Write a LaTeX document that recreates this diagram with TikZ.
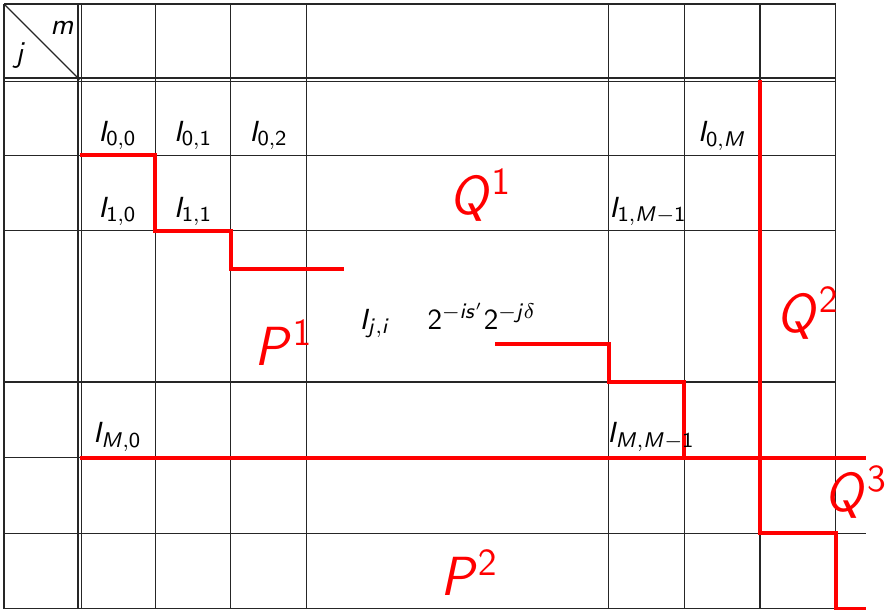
\documentclass[tikz,border=0pt]{standalone}
\DeclareMathAlphabet{\msi}{OT1}{cmss}{m}{sl}
\DeclareMathAlphabet{\msn}{OT1}{cmss}{m}{n}
\renewcommand{\familydefault}{\sfdefault}
\begin{document}
\begin{tikzpicture}[x=1cm,y=1cm,
  gridline/.style={line width=0.45pt, black!85},
  redline/.style={line width=1.5pt, red},
  lab/.style={anchor=base, inner sep=0pt, font=\fontsize{11}{13}\selectfont},
  biglab/.style={anchor=base, inner sep=0pt, text=red, font=\fontsize{19.5}{23}\selectfont}]
\useasboundingbox (-0.053,-8.003) rectangle (11.667,0.053);
% vertical grid lines
\foreach \x in {0,2,3,4,8,9,10} \draw[gridline] (\x,0) -- (\x,-8);
\draw[gridline] (11,0) -- (11,-7);
\draw[gridline] (0.98,0) -- (0.98,-8);
\draw[gridline] (1.02,0) -- (1.02,-8);
% horizontal grid lines
\foreach \y in {0,-2,-3,-5} \draw[gridline] (0,\y) -- (11,\y);
\foreach \y in {-6,-7,-8} \draw[gridline] (0,\y) -- (11.4,\y);
\draw[gridline] (0,-0.98) -- (11,-0.98);
\draw[gridline] (0,-1.02) -- (11,-1.02);
% diagonal in corner cell
\coordinate (c0) at (0,0);
\coordinate (c1) at (1,-1);
\draw[gridline] (c0) -- (c1);
\node[lab] (m) at (0.77,-0.40) {$\msi{m}$};
\node[lab] (j) at (0.22,-0.78) {$\msi{j}$};
% red boundaries
\coordinate (a0) at (1,-2);
\coordinate (a1) at (4.5,-3.5);
\draw[redline] (a0) -- (2,-2) -- (2,-3) -- (3,-3) -- (3,-3.5) -- (a1);
\coordinate (b0) at (6.5,-4.5);
\coordinate (b1) at (9,-6);
\draw[redline] (b0) -- (8,-4.5) -- (8,-5) -- (9,-5) -- (b1);
\coordinate (h0) at (1,-6);
\coordinate (h1) at (11.4,-6);
\draw[redline] (h0) -- (h1);
\coordinate (q0) at (10,-1);
\coordinate (q1) at (11.4,-8);
\draw[redline] (q0) -- (10,-7) -- (11,-7) -- (11,-8) -- (q1);
% labels
\node[lab] (I00) at (1.5,-1.82) {$\msi{I}_{\msn{0,0}}$};
\node[lab] (I01) at (2.5,-1.82) {$\msi{I}_{\msn{0,1}}$};
\node[lab] (I02) at (3.5,-1.82) {$\msi{I}_{\msn{0,2}}$};
\node[lab] (I0M) at (9.5,-1.82) {$\msi{I}_{\msn{0},\msi{M}}$};
\node[lab] (I10) at (1.5,-2.82) {$\msi{I}_{\msn{1,0}}$};
\node[lab] (I11) at (2.5,-2.82) {$\msi{I}_{\msn{1,1}}$};
\node[lab] (I1M) at (8.52,-2.82) {$\msi{I}_{\msn{1},\msi{M}-\msn{1}}$};
\node[lab] (Iji) at (4.91,-4.30) {$\msi{I}_{\msi{j},\msi{i}}$};
\node[lab] (pw) at (6.32,-4.30) {$\msn{2}^{-\msi{is}'}\msn{2}^{-\msi{j}\delta}$};
\node[lab] (IM0) at (1.5,-5.80) {$\msi{I}_{\msi{M},\msn{0}}$};
\node[lab] (IMM) at (8.56,-5.80) {$\msi{I}_{\msi{M},\msi{M}-\msn{1}}$};
\node[biglab] (Q1) at (6.30,-2.79) {$\msi{Q}^{\msn{1}}$};
\node[biglab] (P1) at (3.70,-4.78) {$\msi{P}^{\msn{1}}$};
\node[biglab] (Q2) at (10.63,-4.35) {$\msi{Q}^{\msn{2}}$};
\node[biglab] (Q3) at (11.27,-6.71) {$\msi{Q}^{\msn{3}}$};
\node[biglab] (P2) at (6.15,-7.82) {$\msi{P}^{\msn{2}}$};
\end{tikzpicture}
\end{document}
